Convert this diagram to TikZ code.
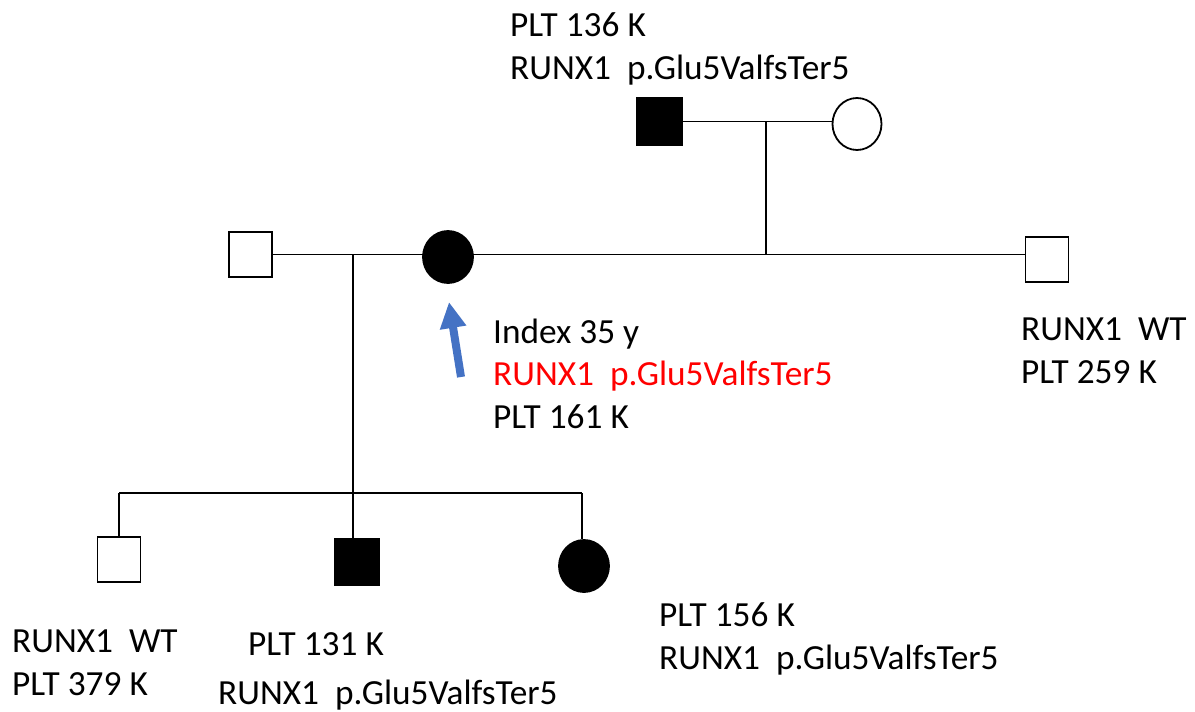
\documentclass[tikz,border=0pt]{standalone}
\usepackage{fontspec}
\setmainfont{Carlito}
\usetikzlibrary{shapes.geometric,arrows.meta}
\definecolor{officeblue}{RGB}{68,114,196}
\definecolor{mutred}{RGB}{255,0,0}
\tikzset{
  male/.style={rectangle,draw=black,line width=1.8pt,minimum width=43pt,minimum height=45pt,inner sep=0pt},
  female/.style={ellipse,draw=black,line width=1.8pt,minimum width=49pt,minimum height=52pt,inner sep=0pt},
  affected/.style={fill=black},
  healthy/.style={fill=white},
  link/.style={line width=1.8pt,black},
  lbl/.style={anchor=base west,inner sep=0pt,font=\fontsize{35.3}{42}\selectfont},
  pointer/.style={officeblue,line width=8pt,-{Triangle[length=26pt,width=25pt]}}
}
\begin{document}
\begin{tikzpicture}[x=1pt,y=-1pt]
\useasboundingbox (0,0) rectangle (1195,712);
% generation I
\node[male,affected,minimum width=45pt,minimum height=47pt] (gf) at (659.5,121.5) {};
\node[female,healthy] (gm) at (857,124) {};
% generation II
\node[male,healthy] (hus) at (250.5,254.5) {};
\node[female,affected,minimum width=50pt] (idx) at (448,257) {};
\node[male,healthy] (bro) at (1047,259.5) {};
% generation III
\node[male,healthy] (c1) at (119,559.5) {};
\node[male,affected,minimum width=45pt,minimum height=47pt] (c2) at (357,562) {};
\node[female,affected,minimum width=50pt] (c3) at (584,566) {};
% coordinates
\coordinate (m1top) at (766,121.7);
\coordinate (m1bot) at (766,254);
\coordinate (m2) at (353,254);
\coordinate (sL) at (119,493);
\coordinate (sR) at (582,493);
\coordinate (arrowtail) at (461,377);
\coordinate (arrowtip) at (449,302);
% connectors
\draw[link] (gf.east) -- (gf.east -| gm.west);
\draw[link] (m1top) -- (m1bot);
\draw[link] (hus.east) -- (hus.east -| bro.west);
\draw[link] (m2) -- (m2 |- c2.north);
\draw[link] (sL) -- (sR);
\draw[link] (sL) -- (c1.north);
\draw[link] (sR) -- (sR |- c3.north);
\draw[pointer] (arrowtail) -- (arrowtip);
% labels
\node[lbl] (t1) at (510,36) {PLT 136 K};
\node[lbl] (t2) at (510,79) {RUNX1\ \ p.Glu5ValfsTer5};
\node[lbl] (i1) at (493,343) {Index 35 y};
\node[lbl,text=mutred] (i2) at (493,385) {RUNX1\ \ p.Glu5ValfsTer5};
\node[lbl] (i3) at (493,428) {PLT 161 K};
\node[lbl] (b1) at (1021,340) {RUNX1\ \ WT};
\node[lbl] (b2) at (1021,383) {PLT 259 K};
\node[lbl] (c1a) at (12,652) {RUNX1\ \ WT};
\node[lbl] (c1b) at (12,695) {PLT 379 K};
\node[lbl] (c2a) at (248,655) {PLT 131 K};
\node[lbl] (c2b) at (218,704) {RUNX1\ \ p.Glu5ValfsTer5};
\node[lbl] (c3a) at (659,626) {PLT 156 K};
\node[lbl] (c3b) at (659,669) {RUNX1\ \ p.Glu5ValfsTer5};
\end{tikzpicture}
\end{document}
